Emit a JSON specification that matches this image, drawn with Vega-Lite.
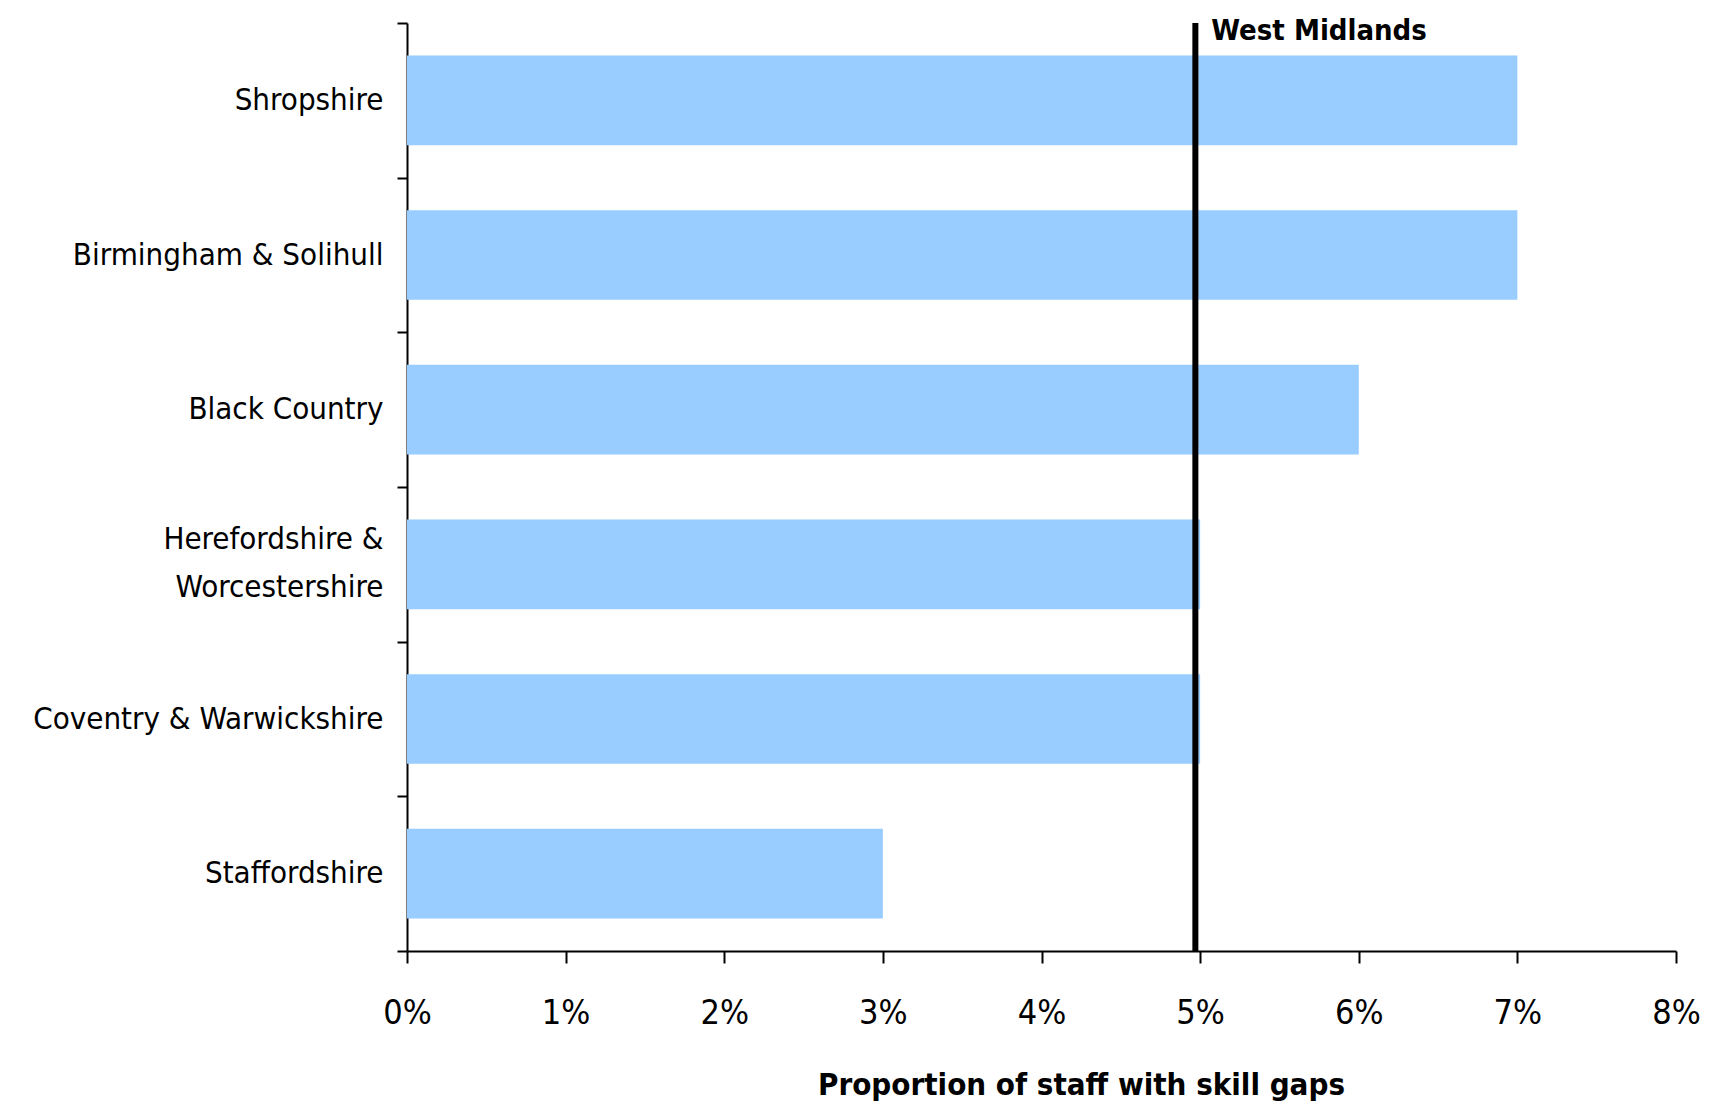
{
  "$schema": "https://vega.github.io/schema/vega-lite/v6.json",
  "width": 1269,
  "height": 928,
  "autosize": "none",
  "padding": {"left": 407, "top": 23, "right": 35, "bottom": 153},
  "background": "white",
  "config": {
    "view": {"stroke": null},
    "font": "DejaVu Sans Condensed"
  },
  "datasets": {
    "bars": [
      {"region": "Shropshire", "value": 0.07},
      {"region": "Birmingham & Solihull", "value": 0.07},
      {"region": "Black Country", "value": 0.06},
      {"region": "Herefordshire & Worcestershire", "value": 0.05},
      {"region": "Coventry & Warwickshire", "value": 0.05},
      {"region": "Staffordshire", "value": 0.03}
    ],
    "ref": [
      {"label": "West Midlands", "value": 0.0497, "region": "Shropshire"}
    ]
  },
  "layer": [
    {
      "data": {"name": "bars"},
      "mark": {"type": "bar", "color": "#99CCFF", "height": {"band": 0.58}},
      "encoding": {
        "y": {
          "field": "region",
          "type": "nominal",
          "sort": ["Shropshire", "Birmingham & Solihull", "Black Country", "Herefordshire & Worcestershire", "Coventry & Warwickshire", "Staffordshire"],
          "scale": {"paddingInner": 0, "paddingOuter": 0},
          "axis": {
            "title": null,
            "domainColor": "black",
            "domainWidth": 2,
            "tickColor": "black",
            "tickWidth": 2,
            "tickSize": 10,
            "tickBand": "extent",
            "labelFont": "DejaVu Sans Condensed",
            "labelFontSize": 31,
            "labelColor": "black",
            "labelPadding": 14,
            "labelLineHeight": 48,
            "labelLimit": 500,
            "labelOffset": {"condition": {"test": "datum.value == 'Herefordshire & Worcestershire'", "value": -25}, "value": 0},
            "labelExpr": "datum.label == 'Herefordshire & Worcestershire' ? ['Herefordshire &', 'Worcestershire '] : datum.label"
          }
        },
        "x": {
          "field": "value",
          "type": "quantitative",
          "scale": {"domain": [0, 0.08], "nice": false},
          "axis": {
            "title": "Proportion of staff with skill gaps",
            "format": ".0%",
            "values": [0, 0.01, 0.02, 0.03, 0.04, 0.05, 0.06, 0.07, 0.08],
            "grid": false,
            "domainColor": "black",
            "domainWidth": 2,
            "tickColor": "black",
            "tickWidth": 2,
            "tickSize": 12,
            "labelFont": "DejaVu Sans Condensed",
            "labelFontSize": 34,
            "labelColor": "black",
            "labelPadding": 33,
            "labelFlush": false,
            "titleFont": "DejaVu Sans Condensed",
            "titleFontSize": 31,
            "titleFontWeight": "bold",
            "titleColor": "black",
            "titleX": 674,
            "titleY": 134,
            "titleBaseline": "middle"
          }
        }
      }
    },
    {
      "data": {"name": "ref"},
      "mark": {"type": "rule", "color": "black", "strokeWidth": 6},
      "encoding": {
        "x": {"field": "value", "type": "quantitative"}
      }
    },
    {
      "data": {"name": "ref"},
      "mark": {
        "type": "text",
        "align": "left",
        "baseline": "alphabetic",
        "dx": 16,
        "font": "DejaVu Sans Condensed",
        "fontSize": 29,
        "fontWeight": "bold",
        "color": "black"
      },
      "encoding": {
        "x": {"field": "value", "type": "quantitative"},
        "y": {"field": "region", "type": "nominal", "bandPosition": 0.11, "sort": ["Shropshire", "Birmingham & Solihull", "Black Country", "Herefordshire & Worcestershire", "Coventry & Warwickshire", "Staffordshire"]},
        "text": {"field": "label"}
      }
    }
  ]
}
